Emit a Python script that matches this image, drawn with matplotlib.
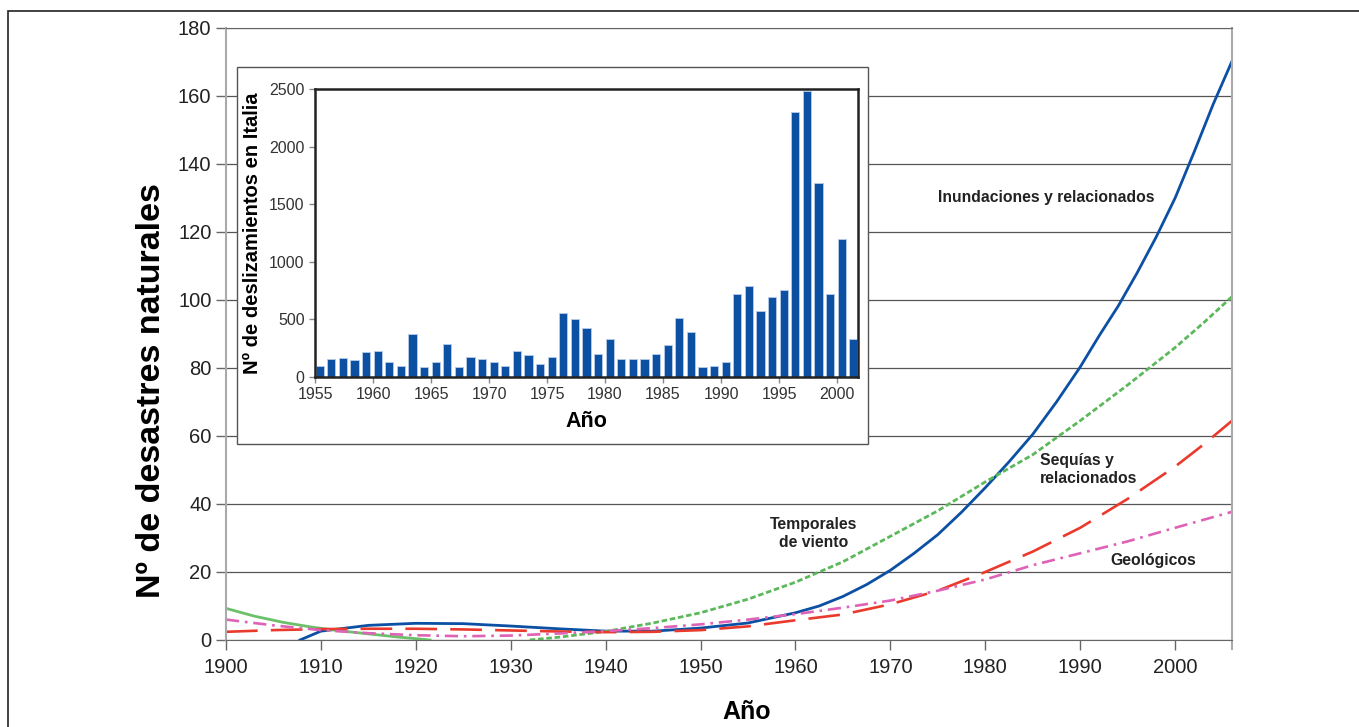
import matplotlib
matplotlib.use('Agg')
import matplotlib.pyplot as plt
from matplotlib.patches import Rectangle

plt.rcParams['font.family'] = ['Liberation Sans', 'DejaVu Sans']

# main chart: trend curves (year, number of disasters)
flood_years = [1907.8, 1910, 1915, 1920, 1925, 1930, 1935, 1940, 1945, 1950, 1955,
               1960, 1962.5, 1965, 1967.5, 1970, 1972.5, 1975, 1977.5, 1980, 1982.5,
               1985, 1987.5, 1990, 1992, 1994, 1996, 1998, 2000, 2002, 2004, 2006]
flood_vals = [0, 2.6, 4.3, 4.9, 4.8, 4.1, 3.3, 2.6, 2.6, 3.5, 5.0,
              8.0, 10.0, 12.8, 16.3, 20.5, 25.5, 31.0, 37.6, 44.8, 52.4,
              60.5, 70.0, 80.3, 89.5, 98.2, 108.0, 118.5, 130.0, 143.5, 157.5, 170.3]

wind_years = [1932, 1935, 1940, 1945, 1950, 1955, 1960, 1965, 1970, 1975,
              1980, 1985, 1990, 1995, 2000, 2003, 2006]
wind_vals = [0, 0.8, 2.5, 5.0, 8.0, 12.0, 17.0, 23.0, 30.5, 38.0,
             46.5, 54.5, 64.5, 75.0, 86.0, 93.3, 101]

wind_early_years = [1900, 1903, 1906, 1909, 1912, 1915, 1918, 1921.5]
wind_early_vals = [9.3, 7.0, 5.2, 3.8, 2.7, 1.8, 0.9, 0]

drought_years = [1900, 1905, 1910, 1915, 1920, 1925, 1930, 1935, 1940, 1945, 1950,
                 1955, 1960, 1965, 1970, 1975, 1980, 1985, 1990, 1995, 2000, 2003, 2006]
drought_vals = [2.4, 2.9, 3.2, 3.3, 3.3, 3.1, 2.8, 2.5, 2.3, 2.4, 2.9,
                4.0, 5.8, 7.5, 10.5, 14.5, 20.0, 26.0, 33.0, 41.5, 51.0, 57.5, 64.5]

geo_years = [1900, 1905, 1910, 1915, 1920, 1925, 1930, 1935, 1940, 1945, 1950,
             1955, 1960, 1965, 1970, 1975, 1980, 1985, 1990, 1995, 2000, 2006]
geo_vals = [6.0, 4.3, 2.9, 2.0, 1.4, 1.1, 1.3, 1.9, 2.6, 3.5, 4.6,
            6.0, 7.6, 9.5, 11.6, 14.5, 17.8, 22.0, 25.5, 29.0, 33.0, 37.7]

# inset: landslides in Italy per year
slide_years = list(range(1955, 2002))
slide_counts = [99, 154, 169, 145, 215, 227, 128, 96, 372, 90,
                134, 288, 84, 172, 160, 134, 99, 227, 195, 110,
                172, 558, 500, 422, 203, 334, 160, 154, 160, 203,
                282, 515, 387, 87, 99, 131, 724, 791, 573, 695,
                756, 2302, 2480, 1686, 718, 1195, 331]

fig = plt.figure(figsize=(13.59, 7.27), dpi=100)

# outer frame of the figure
fig.patches.append(Rectangle((8 / 1359, -0.05), 1.2, 1 - 11 / 727 + 0.05,
                             transform=fig.transFigure, fill=False,
                             edgecolor='#222222', linewidth=1.2))

ax = fig.add_axes([0.1663, 0.1197, 0.7403, 0.8418])
ax.plot(flood_years, flood_vals, color='#0c50a4', lw=2.0)
ax.plot(wind_years, wind_vals, color='#5cb85a', lw=2.0, linestyle=(0, (2, 1)))
ax.plot(wind_early_years, wind_early_vals, color='#6cc06a', lw=2.0)
ax.plot(drought_years, drought_vals, color='#ea3a2e', lw=1.9, linestyle=(0, (12, 5)))
ax.plot(geo_years, geo_vals, color='#de62b6', lw=1.9, linestyle=(0, (5, 2.2, 1, 2.2)))

ax.set_xlim(1900, 2006)
ax.set_ylim(0, 180)
ax.set_xticks(range(1900, 2001, 10))
ax.set_xticks([2006], minor=True)
ax.set_yticks(range(0, 181, 20))
ax.grid(axis='y', color='#555555', lw=0.9)
ax.set_axisbelow(True)
for s in ['left', 'right']:
    ax.spines[s].set_color('#aaaaaa')
    ax.spines[s].set_linewidth(1.5)
ax.spines['top'].set_color('#666666')
ax.spines['bottom'].set_color('#666666')
ax.tick_params(axis='both', which='both', labelsize=14.5, labelcolor='#222222',
               color='#666666', length=7, width=1)
ax.tick_params(axis='x', which='minor', color='#aaaaaa', width=1.5)
ax.tick_params(axis='x', pad=6)

fig.text(747 / 1359, 1 - 712 / 727, 'Año', fontsize=18, fontweight='bold',
         ha='center', va='center')
fig.text(152 / 1359, 1 - 391 / 727, 'Nº de desastres naturales', fontsize=24.5,
         fontweight='bold', rotation=90, ha='center', va='center')

lab = dict(fontsize=11.3, fontweight='bold', va='center', color='#222222',
           linespacing=1.25)
ax.text(1986.4, 130, 'Inundaciones y relacionados', ha='center', **lab)
ax.text(1985.8, 50, 'Sequías y\nrelacionados', ha='left', **lab)
ax.text(1961.9, 31.2, 'Temporales\nde viento', ha='center', **lab)
ax.text(1997.7, 23.5, 'Geológicos', ha='center', **lab)

# white box behind the inset
ax.add_patch(Rectangle((237 / 1359, 1 - 444 / 727), (868 - 237) / 1359, (444 - 67) / 727,
                       transform=fig.transFigure, facecolor='white',
                       edgecolor='#555555', lw=1.0, zorder=10, clip_on=False))

ax_in = fig.add_axes([0.2318, 0.4814, 0.3995, 0.3962])
ax_in.bar([y + 0.4 for y in slide_years], slide_counts, width=0.7, color='#0c50a4',
          edgecolor='#b8cce8', linewidth=0.6)
ax_in.set_xlim(1955, 2001.8)
ax_in.set_ylim(0, 2500)
ax_in.set_xticks(range(1955, 2001, 5))
ax_in.set_yticks(range(0, 2501, 500))
for s in ax_in.spines.values():
    s.set_color('#222222')
    s.set_linewidth(1.8)
ax_in.tick_params(axis='both', labelsize=11.5, labelcolor='#333333', color='#888888',
                  length=4, width=1)
ax_in.set_xlabel('Año', fontsize=15.5, fontweight='bold', labelpad=6)
ax_in.set_ylabel('Nº de deslizamientos en Italia', fontsize=14.5, fontweight='bold',
                 labelpad=5)

plt.savefig('out.png', dpi=100)
